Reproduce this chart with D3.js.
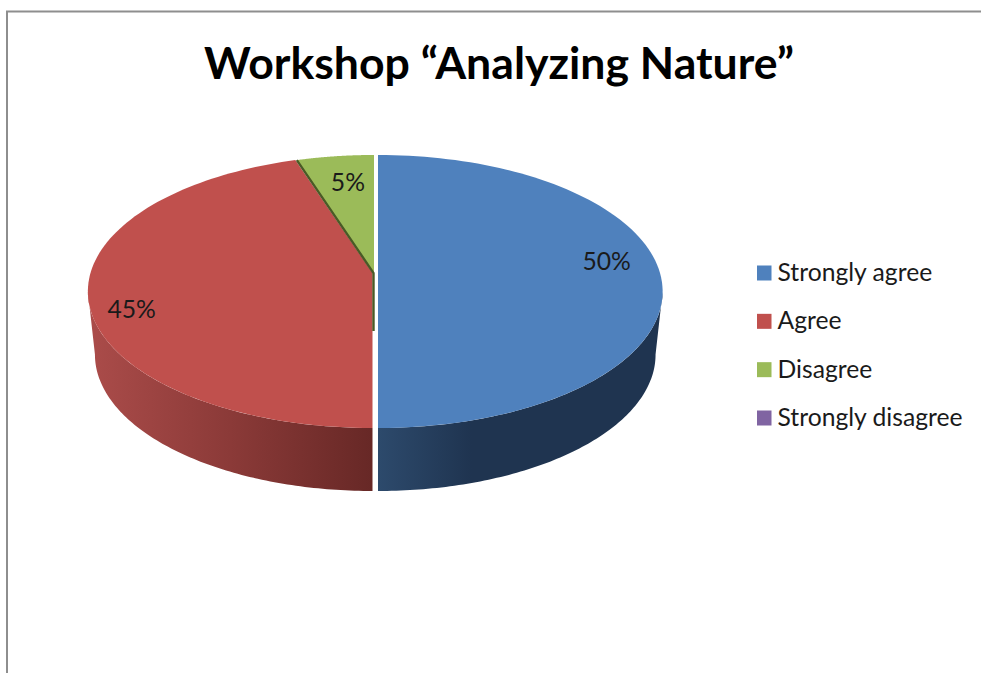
<!DOCTYPE html>
<html>
    <head>
        <title>Workshop pie</title>
        <meta charset="UTF-8">
        <style type="text/css">
            html, body{
                margin: 0;
                background: #fff;
            }
            svg{
                display: block;
            }
            text{
                font-family: Lato, "Open Sans", sans-serif;
                fill: #1a1a1a;
            }
            .title{
                font-size: 44.6px;
                font-weight: 700;
                fill: #000;
            }
            .legend text, .label{
                font-size: 24.7px;
            }
        </style>
        <script src="https://d3js.org/d3.v7.min.js"></script>
    </head>
    <body>
        <svg width="981" height="673"></svg>

        <script type="text/javascript">
            var title = "Workshop \u201CAnalyzing Nature\u201D";
            var categories = ["Strongly agree", "Agree", "Disagree", "Strongly disagree"];
            var values = [50, 45, 5, 0];
            var colors = ["#4f81bd", "#c0504d", "#9bbb59", "#8064a2"];

            var svg = d3.select("svg");

            // perspective pie: far side is squeezed, so the centre sits above the middle of the ellipse
            var persp = 0.1355,
                topY = 273, radX = 282, radY = 134,
                rimY = 336, rimX = 275,
                centers = [378, 372.5, 374, 374],
                wallH = 58;

            function project(cx, cy, rx, a){
                var d = 1 + persp * Math.cos(a);
                return [cx + rx * Math.sin(a) / d, cy - radY * Math.cos(a) / d];
            }

            function arcPoints(cx, cy, rx, a0, a1){
                return d3.range(0, 101).map(function(i){
                    return project(cx, cy, rx, a0 + (a1 - a0) * i / 100);
                });
            }

            var line = d3.line();

            var pie = d3.pie().sort(null).startAngle(0).endAngle(2 * Math.PI)(values);

            var defs = svg.append("defs");

            function sideGradient(id, stops){
                var g = defs.append("linearGradient")
                    .attr("id", id)
                    .attr("gradientUnits", "objectBoundingBox");
                stops.forEach(function(s){
                    g.append("stop").attr("offset", s[0]).attr("stop-color", s[1]);
                });
            }
            sideGradient("sideBlue", [[0, "#2d4a6c"], [0.33, "#1f3450"], [1, "#1f3450"]]);
            sideGradient("sideRed", [[0, "#ab4c4a"], [0.5, "#8b3a38"], [1, "#672826"]]);

            // frame, only top and left are inside the picture
            svg.append("path")
                .attr("d", line([[7, 673], [7, 11.5], [981, 11.5]]))
                .attr("fill", "none")
                .attr("stroke", "#8e8e8e")
                .attr("stroke-width", 2);

            svg.append("text")
                .attr("class", "title")
                .attr("x", 499)
                .attr("y", 78.5)
                .attr("text-anchor", "middle")
                .text(title);

            // side walls, from the silhouette point round to the front
            var edge = Math.acos(-persp);
            function sidePath(cx, a0, a1){
                return line(arcPoints(cx, topY, radX, a0, a1)
                    .concat(arcPoints(cx, rimY, rimX, a1, a0))) + "Z";
            }
            svg.append("path")
                .attr("d", sidePath(centers[0], edge, pie[0].endAngle))
                .attr("fill", "url(#sideBlue)");
            svg.append("path")
                .attr("d", sidePath(centers[1], pie[1].startAngle, 2 * Math.PI - edge))
                .attr("fill", "url(#sideRed)");

            // top faces
            svg.append("g").selectAll("path")
                .data(pie.filter(function(d){ return d.value > 0; }))
                .join("path")
                .attr("d", function(d){
                    var cx = centers[d.index];
                    return line([[cx, topY]].concat(arcPoints(cx, topY, radX, d.startAngle, d.endAngle))) + "Z";
                })
                .attr("fill", function(d){ return colors[d.index]; });

            // dark inner wall of the small slice
            var cut = project(centers[2], topY, radX, pie[2].startAngle);
            svg.append("path")
                .attr("d", line([cut, [centers[2] - 0.5, topY], [centers[2] - 0.5, topY + wallH]]))
                .attr("fill", "none")
                .attr("stroke", "#4a5a26")
                .attr("stroke-width", 2.4);

            // data labels, anchored to the slice middle
            var labelFrac = [0.8, 0.85, 0.8],
                labelShift = [[3, -32], [1, -2], [5, -17]];
            svg.append("g").selectAll("text")
                .data(pie.filter(function(d){ return d.value > 0; }))
                .join("text")
                .attr("class", "label")
                .attr("text-anchor", "middle")
                .attr("dominant-baseline", "central")
                .attr("x", function(d){
                    var i = d.index, a = (d.startAngle + d.endAngle) / 2;
                    return centers[i] + labelFrac[i] * (project(0, 0, radX, a)[0]) + labelShift[i][0];
                })
                .attr("y", function(d){
                    var i = d.index, a = (d.startAngle + d.endAngle) / 2;
                    return topY + labelFrac[i] * (project(0, 0, radX, a)[1]) + labelShift[i][1] + 19;
                })
                .text(function(d){ return d.value + "%"; });

            // legend
            var rowY = d3.scalePoint().domain(categories).range([273, 418]);
            var legend = svg.append("g").attr("class", "legend")
                .selectAll("g")
                .data(categories)
                .join("g")
                .attr("transform", function(d){ return "translate(757," + rowY(d) + ")"; });

            legend.append("rect")
                .attr("y", -7.5)
                .attr("width", 14.5)
                .attr("height", 15)
                .attr("fill", function(d, i){ return colors[i]; });

            legend.append("text")
                .attr("x", 20.5)
                .attr("y", 8)
                .text(function(d){ return d; });
        </script>
    </body>
</html>
